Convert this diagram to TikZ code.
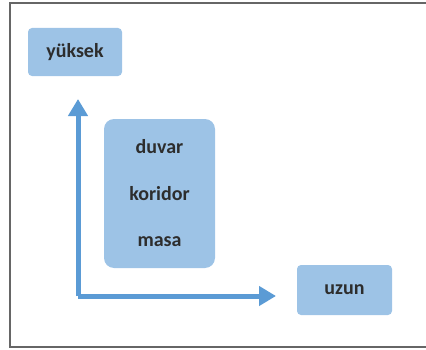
\documentclass[tikz,border=0pt]{standalone}
\usepackage{fontspec}
\setmainfont{Carlito}
\usetikzlibrary{arrows.meta}
\definecolor{boxblue}{RGB}{157,195,230}
\definecolor{arrowblue}{RGB}{91,155,213}
\definecolor{textgray}{RGB}{45,45,45}
\begin{document}
\begin{tikzpicture}[x=1pt,y=1pt]
        \tikzstyle{word}=[rounded corners=4pt,fill=boxblue,text=textgray,font=\fontsize{20}{24}\selectfont\bfseries,inner sep=0pt]
        \tikzstyle{axis}=[draw=arrowblue, line width=5pt, -{Triangle[width=19pt,length=17pt]}]
        \useasboundingbox (0,0) rectangle (426,349);
        \draw[gray!80!black, line width=1.6pt] (426,346) -- (10,346) -- (10,2) -- (426,2);
        \node [word,minimum width=94pt,minimum height=48pt] (s1) at (75,297) {yüksek};
        \node [word,rounded corners=10pt,minimum width=111pt,minimum height=149pt,align=center,font=\fontsize{20}{46.5}\selectfont\bfseries] (s2) at (159.5,155.5) {duvar\\koridor\\masa};
        \node [word,minimum width=95pt,minimum height=50pt] (s3) at (344.5,59) {uzun};
        \coordinate (o) at (78,53);
        \coordinate (ty) at (78,250);
        \coordinate (tx) at (276,53);
        \path[axis] (o) -- (ty);
        \path[axis] (o) -- (tx);
\end{tikzpicture}
\end{document}
